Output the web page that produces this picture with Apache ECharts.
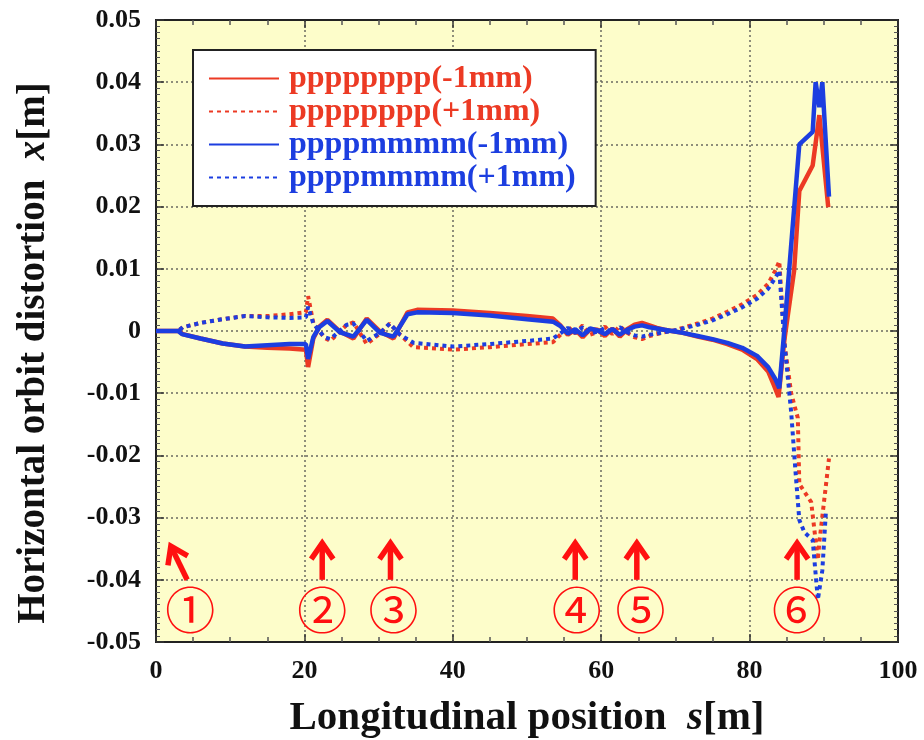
<!DOCTYPE html>
<html>
<head>
<meta charset="utf-8">
<script src="https://cdn.jsdelivr.net/npm/echarts@6/dist/echarts.min.js"></script>
<style>
html, body { margin: 0; padding: 0; background: #ffffff; }
#chart { width: 924px; height: 740px; }
</style>
</head>
<body>
<div id="chart"></div>
<script>
// Horizontal orbit distortion x [m] along the beam line s [m]
// for two kick patterns, each with a -1 mm and a +1 mm offset.

const seriesNames = ['pppppppp(-1mm)', 'pppppppp(+1mm)', 'ppppmmmm(-1mm)', 'ppppmmmm(+1mm)'];

// pppppppp, -1 mm
const sRedMinus = [0, 3, 3.6, 6, 9, 12, 15, 18, 20.2, 20.5, 21.2, 22, 23.1, 24.8, 26.6, 28.4, 30.2, 32, 33.9, 35.2,
  40, 45, 50, 53.5, 54.5, 55.5, 56.5, 57.5, 58.5, 59.5, 60.5, 61.5, 62.5, 63.5, 64.5, 65.5, 66.5, 67.5, 68.5, 69.5,
  71, 73, 75, 77, 79, 81, 82.5, 83.3, 83.9, 84.7, 86.0, 86.7, 88.5, 89.4, 90.6];
const xRedMinus = [0, 0, -0.0005, -0.0012, -0.0020, -0.0025, -0.0027, -0.0028, -0.0030, -0.0058, -0.0012, 0.0007, 0.0018, -0.0001, -0.0012, 0.0020, -0.0001, -0.0012, 0.0030, 0.0034,
  0.0033, 0.0029, 0.0024, 0.0020, 0.0009, -0.0006, 0.0002, -0.0010, 0.0003, 0.0002, -0.0008, 0.0004, -0.0009, 0.0003, 0.0010, 0.0013, 0.0009, 0.0005, 0.0002, 0.0000,
  -0.0003, -0.0009, -0.0014, -0.0021, -0.0030, -0.0045, -0.0065, -0.0088, -0.0106, -0.0013, 0.0097, 0.0225, 0.0266, 0.0347, 0.0199];

// pppppppp, +1 mm
const sRedPlus = [0, 3, 3.6, 6, 9, 12, 15, 18, 20.2, 20.5, 21.2, 22.7, 23.5, 25.7, 26.6, 28.4, 30.2, 31.5, 32.9, 34.7,
  40, 45, 50, 53.5, 54.5, 55.5, 56.5, 57.5, 58.5, 59.5, 60.5, 61.5, 62.5, 63.5, 64.5, 65.5, 66.5, 67.5, 68.5, 69.5,
  71, 73, 75, 77, 79, 81, 82.5, 83.5, 84.0, 84.7, 85.6, 86.5, 86.7, 88.3, 89.2, 89.4, 90.7];
const xRedPlus = [0, 0, 0.0006, 0.0013, 0.0019, 0.0024, 0.0024, 0.0027, 0.0030, 0.0056, 0.0013, -0.0011, -0.0016, 0.0010, 0.0014, -0.0021, -0.0004, 0.0012, -0.0006, -0.0026,
  -0.0030, -0.0026, -0.0021, -0.0018, -0.0006, 0.0007, -0.0004, 0.0009, -0.0006, -0.0002, 0.0007, -0.0005, 0.0008, -0.0003, -0.0010, -0.0013, -0.0008, -0.0005, -0.0002, 0.0000,
  0.0005, 0.0012, 0.0020, 0.0031, 0.0043, 0.0058, 0.0076, 0.0098, 0.0112, -0.0020, -0.0100, -0.0140, -0.0246, -0.0275, -0.0368, -0.0340, -0.0205];

// ppppmmmm, -1 mm
const sBlueMinus = [0, 3, 3.5, 6, 9, 12, 15, 18, 20.2, 20.5, 21.2, 22, 23.1, 24.8, 26.6, 28.4, 30.2, 32, 33.9, 35.2,
  40, 45, 50, 53.5, 54.5, 55.5, 56.5, 57.5, 58.5, 59.5, 60.5, 61.5, 62.5, 63.5, 64.5, 65.5, 66.5, 67.5, 68.5, 69.5,
  71, 73, 75, 77, 79, 81, 82.5, 83.5, 84.0, 84.6, 86.7, 88.5, 88.9, 89.4, 89.8, 90.7];
const xBlueMinus = [0, 0, -0.0005, -0.0012, -0.0020, -0.0025, -0.0023, -0.0021, -0.0021, -0.0045, -0.0010, 0.0006, 0.0016, -0.0002, -0.0009, 0.0018, -0.0003, -0.0009, 0.0027, 0.0030,
  0.0029, 0.0025, 0.0019, 0.0015, 0.0008, -0.0004, 0.0003, -0.0007, 0.0004, 0.0001, -0.0005, 0.0003, -0.0006, 0.0002, 0.0007, 0.0009, 0.0006, 0.0004, 0.0002, 0.0000,
  -0.0003, -0.0008, -0.0013, -0.0019, -0.0027, -0.0040, -0.0058, -0.0078, -0.0092, -0.0010, 0.0300, 0.0320, 0.0400, 0.0360, 0.0400, 0.0216];

// ppppmmmm, +1 mm
const sBluePlus = [0, 3, 3.6, 6, 9, 12, 15, 18, 20.2, 20.5, 21.2, 22.7, 23.5, 25.7, 26.6, 28.4, 30.2, 31.5, 32.9, 34.7,
  40, 45, 50, 53.5, 54.5, 55.5, 56.5, 57.5, 58.5, 59.5, 60.5, 61.5, 62.5, 63.5, 64.5, 65.5, 66.5, 67.5, 68.5, 69.5,
  71, 73, 75, 77, 79, 81, 82.5, 83.5, 84.0, 84.7, 85.6, 86.2, 86.7, 87.4, 88.5, 89.2, 89.8, 90.3];
const xBluePlus = [0, 0, 0.0006, 0.0013, 0.0019, 0.0024, 0.0022, 0.0021, 0.0022, 0.0039, 0.0012, -0.0010, -0.0013, 0.0010, 0.0012, -0.0016, -0.0003, 0.0012, -0.0006, -0.0019,
  -0.0025, -0.0021, -0.0016, -0.0012, -0.0004, 0.0005, -0.0003, 0.0006, -0.0004, -0.0001, 0.0005, -0.0004, 0.0006, -0.0002, -0.0007, -0.0009, -0.0006, -0.0004, -0.0002, 0.0000,
  0.0004, 0.0010, 0.0017, 0.0027, 0.0038, 0.0052, 0.0068, 0.0086, 0.0097, -0.0020, -0.0130, -0.0228, -0.0304, -0.0324, -0.0336, -0.0432, -0.0385, -0.0287];

// numbered markers along the line: arrow tip, arrow tail and circled label, in (s, x)
const markLabels = ['①', '②', '③', '④', '⑤', '⑥'];
const markTipS = [2.0, 22.4, 31.6, 56.5, 64.8, 86.4];
const markTipX = [-0.0346, -0.0341, -0.0341, -0.0341, -0.0341, -0.0341];
const markTailS = [4.2, 22.4, 31.6, 56.5, 64.8, 86.4];
const markTailX = [-0.0400, -0.0400, -0.0400, -0.0400, -0.0400, -0.0400];
const markLabelS = [4.6, 22.4, 32.0, 56.7, 65.3, 86.4];
const markLabelX = [-0.0449, -0.0449, -0.0449, -0.0449, -0.0449, -0.0449];

const RED = '#ec3a24';
const BLUE = '#1c3ee0';
const MARK = '#ff1010';
const SERIF = '"Liberation Serif", "Times New Roman", serif';

function zip(a, b) { return a.map((v, i) => [v, b[i]]); }

function lineSeries(name, s, x, color, dashed) {
  return {
    name: name,
    type: 'line',
    data: zip(s, x),
    symbol: 'none',
    showSymbol: false,
    smooth: false,
    clip: true,
    lineStyle: { color: color, width: dashed ? 4 : 4.5, type: dashed ? [4, 4] : 'solid', cap: 'butt' },
    itemStyle: { color: color },
    emphasis: { disabled: true },
    z: 3
  };
}

const markData = markLabels.map((t, i) => [markTipS[i], markTipX[i], markTailS[i], markTailX[i], markLabelS[i], markLabelX[i]]);

function renderMark(params, api) {
  const tip = api.coord([api.value(0), api.value(1)]);
  const tail = api.coord([api.value(2), api.value(3)]);
  const lab = api.coord([api.value(4), api.value(5)]);
  let dx = tip[0] - tail[0], dy = tip[1] - tail[1];
  const len = Math.sqrt(dx * dx + dy * dy) || 1;
  dx /= len; dy /= len;
  const nx = -dy, ny = dx;
  const back = 16, half = 11;
  const p1 = [tip[0] - dx * back + nx * half, tip[1] - dy * back + ny * half];
  const p2 = [tip[0] - dx * back - nx * half, tip[1] - dy * back - ny * half];
  return {
    type: 'group',
    children: [
      { type: 'line', shape: { x1: tail[0], y1: tail[1], x2: tip[0] - dx * 3, y2: tip[1] - dy * 3 },
        style: { stroke: MARK, lineWidth: 5.5, lineCap: 'butt' } },
      { type: 'polyline', shape: { points: [p1, [tip[0], tip[1]], p2] },
        style: { stroke: MARK, lineWidth: 5.5, fill: null, lineJoin: 'miter', lineCap: 'butt' } },
      { type: 'text', style: { text: markLabels[params.dataIndex], x: lab[0], y: lab[1],
        align: 'center', verticalAlign: 'middle', fontSize: 50, fontWeight: 'normal',
        fontFamily: '"Noto Sans CJK JP", "Noto Sans CJK SC", sans-serif', fill: MARK } }
    ]
  };
}

const yTickFmt = v => (Math.abs(v) < 1e-9 ? '0' : v.toFixed(2));

const sMin = 0, sMax = 100, sStep = 20;
const xMin = -0.05, xMax = 0.05, xStep = 0.01;

const tickFont = { fontFamily: SERIF, fontWeight: 'bold', fontSize: 26, color: '#111' };
const gridDots = { show: true, lineStyle: { color: '#6a6a60', width: 1.5, type: [2, 3] } };

const option = {
  animation: false,
  backgroundColor: '#ffffff',
  grid: {
    left: 156, right: 26, top: 20, bottom: 98,
    show: true, backgroundColor: '#fdfdca', borderColor: '#222', borderWidth: 2,
    containLabel: false, outerBoundsMode: 'none'
  },
  legend: {
    show: true,
    orient: 'vertical',
    left: 193, top: 50,
    padding: [12, 20, 12, 15],
    itemGap: 0,
    itemWidth: 70,
    itemHeight: 14,
    backgroundColor: '#ffffff',
    borderColor: '#222',
    borderWidth: 2,
    borderRadius: 0,
    selectedMode: false,
    itemStyle: { opacity: 0 },
    textStyle: { fontFamily: SERIF, fontWeight: 'bold', fontSize: 32, lineHeight: 33, padding: [0, 0, 0, 5] },
    data: [
      { name: seriesNames[0], textStyle: { color: RED } },
      { name: seriesNames[1], textStyle: { color: RED } },
      { name: seriesNames[2], textStyle: { color: BLUE } },
      { name: seriesNames[3], textStyle: { color: BLUE } }
    ]
  },
  xAxis: [{
    type: 'value', min: sMin, max: sMax, interval: sStep, position: 'bottom',
    name: 'Longitudinal position  {i|s}[m]',
    nameLocation: 'middle', nameGap: 56,
    nameTextStyle: { fontFamily: SERIF, fontWeight: 'bold', fontSize: 41, color: '#111',
      rich: { i: { fontFamily: SERIF, fontWeight: 'bold', fontStyle: 'italic', fontSize: 41, color: '#111' } } },
    axisLine: { show: true, onZero: false, lineStyle: { color: '#222', width: 2 } },
    axisTick: { show: true, inside: true, length: 8, lineStyle: { color: '#333', width: 1.5 } },
    minorTick: { show: true, splitNumber: 4, length: 5, lineStyle: { color: '#555', width: 1.5 } },
    axisLabel: Object.assign({ margin: 16 }, tickFont),
    splitLine: gridDots
  }, {
    type: 'value', min: sMin, max: sMax, interval: sStep, position: 'top',
    axisLine: { show: true, onZero: false, lineStyle: { color: '#222', width: 2 } },
    axisTick: { show: true, inside: true, length: 8, lineStyle: { color: '#333', width: 1.5 } },
    minorTick: { show: true, splitNumber: 4, length: 5, lineStyle: { color: '#555', width: 1.5 } },
    axisLabel: { show: false },
    splitLine: { show: false }
  }],
  yAxis: [{
    type: 'value', min: xMin, max: xMax, interval: xStep, position: 'left',
    name: 'Horizontal orbit distortion  {i|x}[m]',
    nameLocation: 'middle', nameGap: 103, nameRotate: 90,
    nameTextStyle: { fontFamily: SERIF, fontWeight: 'bold', fontSize: 39, color: '#111', padding: [0, 44, 0, 0],
      rich: { i: { fontFamily: SERIF, fontWeight: 'bold', fontStyle: 'italic', fontSize: 39, color: '#111' } } },
    axisLine: { show: true, onZero: false, lineStyle: { color: '#222', width: 2 } },
    axisTick: { show: true, inside: true, length: 8, lineStyle: { color: '#333', width: 1.5 } },
    minorTick: { show: true, splitNumber: 10, length: 4, lineStyle: { color: '#555', width: 1 } },
    axisLabel: Object.assign({ margin: 15, formatter: yTickFmt }, tickFont),
    splitLine: gridDots
  }, {
    type: 'value', min: xMin, max: xMax, interval: xStep, position: 'right',
    axisLine: { show: true, onZero: false, lineStyle: { color: '#222', width: 2 } },
    axisTick: { show: true, inside: true, length: 8, lineStyle: { color: '#333', width: 1.5 } },
    minorTick: { show: true, splitNumber: 10, length: 4, lineStyle: { color: '#555', width: 1 } },
    axisLabel: { show: false },
    splitLine: { show: false }
  }],
  series: [
    lineSeries(seriesNames[0], sRedMinus, xRedMinus, RED, false),
    lineSeries(seriesNames[1], sRedPlus, xRedPlus, RED, true),
    lineSeries(seriesNames[2], sBlueMinus, xBlueMinus, BLUE, false),
    lineSeries(seriesNames[3], sBluePlus, xBluePlus, BLUE, true),
    {
      name: 'markers',
      type: 'custom',
      data: markData,
      encode: { x: 0, y: 1 },
      renderItem: renderMark,
      clip: false,
      silent: true,
      z: 5
    }
  ]
};

const chart = echarts.init(document.getElementById('chart'), null, { renderer: 'canvas' });
chart.setOption(option);
</script>
</body>
</html>
